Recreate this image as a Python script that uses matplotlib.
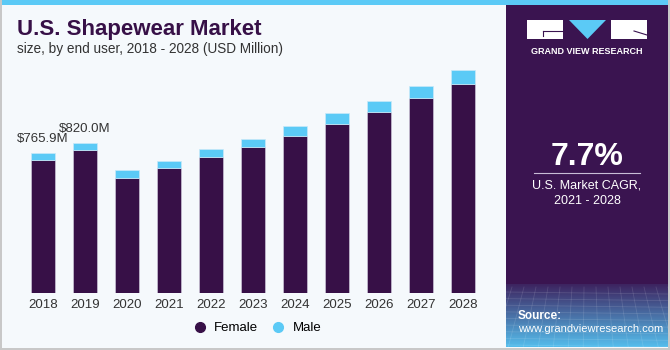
import numpy as np
import matplotlib
matplotlib.use('Agg')
import matplotlib.pyplot as plt
from matplotlib.lines import Line2D
from matplotlib.patches import Rectangle, Polygon

plt.rcParams['font.family'] = ['Liberation Sans', 'DejaVu Sans']

# data (USD Million)
years = ['2018', '2019', '2020', '2021', '2022', '2023', '2024', '2025', '2026', '2027', '2028']
female = [729, 784, 632, 687, 744, 802, 859, 925, 991, 1067, 1148]
male = [36.9, 36.0, 42, 35, 47, 42, 57, 60, 62, 68, 75]
labels = {0: '$765.9M', 1: '$820.0M'}

purple = '#371047'
blue = '#5bcaf6'
panel = '#3a1450'
bg = '#f5f9fc'

fig = plt.figure(figsize=(6.7, 3.5), dpi=100)
fig.patch.set_facecolor(bg)

def px(x, y, w, h):
    # pixel box (from top-left) -> figure coords
    return [x / 670, 1 - (y + h) / 350, w / 670, h / 350]

# main chart
ax = fig.add_axes(px(22, 60, 462, 233))
ax.set_facecolor(bg)
x = np.arange(len(years))
ax.bar(x, female, width=0.57, color=purple, edgecolor='#c9c3d6', linewidth=0.5)
ax.bar(x, male, bottom=female, width=0.57, color=blue, edgecolor='#c9e9f8', linewidth=0.5)
for i, txt in labels.items():
    ax.text(x[i], female[i] + male[i] + 45, txt, ha='center', va='bottom',
            fontsize=9.5, color='#333333')
ax.set_xlim(-0.5, len(years) - 0.5)
ax.set_ylim(0, 1277)
ax.set_xticks(x)
ax.set_xticklabels(years, fontsize=9.5, color='#333333')
ax.tick_params(axis='x', length=0, pad=4)
ax.set_yticks([])
for s in ax.spines.values():
    s.set_visible(False)

# title
fig.text(17 / 670, 1 - 30 / 350, 'U.S. Shapewear Market', fontsize=16, fontweight='bold',
         color=purple, va='center', ha='left')
fig.text(17 / 670, 1 - 49 / 350, 'size, by end user, 2018 - 2028 (USD Million)', fontsize=9.8,
         color='#333333', va='center', ha='left')

# legend
handles = [Line2D([], [], marker='o', linestyle='', markersize=7, color=purple, label='Female'),
           Line2D([], [], marker='o', linestyle='', markersize=7, color=blue, label='Male')]
fig.legend(handles=handles, loc='center', bbox_to_anchor=(254 / 670, 1 - 328 / 350), ncol=2,
           frameon=False, fontsize=9.5, handletextpad=0.1, columnspacing=0.5)

# overlay axes for decorations (pixel coords)
deco = fig.add_axes([0, 0, 1, 1])
deco.set_xlim(0, 670)
deco.set_ylim(350, 0)
deco.axis('off')
deco.patch.set_alpha(0)

deco.add_patch(Rectangle((0, 0), 670, 5, color=blue, lw=0))
deco.add_patch(Rectangle((0, 0), 1.5, 350, color='#c8c8c8', lw=0))
deco.add_patch(Rectangle((0, 347.5), 670, 2.5, color='#c8c8c8', lw=0))
deco.add_patch(Rectangle((667.5, 0), 2.5, 350, color='#c8c8c8', lw=0))
deco.add_patch(Rectangle((506, 5), 161.5, 280, color=panel, lw=0))

# bottom gradient of sidebar
grad = np.linspace(0, 1, 100).reshape(-1, 1)
c1 = np.array(matplotlib.colors.to_rgb('#3d2460'))
c2 = np.array(matplotlib.colors.to_rgb('#55bdec'))
img = c1 + grad[..., None] * (c2 - c1)
img = np.repeat(img, 2, axis=1)
deco.imshow(img, extent=(506, 667.5, 347.5, 285), aspect='auto', zorder=1)
for yy in np.linspace(292, 345, 9):
    deco.plot([506, 667.5], [yy, yy + 2], color='white', alpha=0.12, lw=0.6, zorder=2)
for xx in np.linspace(500, 680, 16):
    deco.plot([xx, xx + (xx - 587) * 0.25], [287, 347], color='white', alpha=0.12, lw=0.6, zorder=2)
deco.set_xlim(0, 670)
deco.set_ylim(350, 0)

# logo
deco.add_patch(Rectangle((527, 20), 36, 19, color='white', lw=0, zorder=3))
deco.add_patch(Polygon([(569, 20), (606, 20), (587.5, 39)], closed=True, color=blue, lw=0, zorder=3))
deco.add_patch(Rectangle((611, 20), 36, 19, color='white', lw=0, zorder=3))
deco.plot([543, 563], [31, 31], color=panel, lw=0.8, zorder=4)
deco.plot([543, 543], [31, 36], color=panel, lw=0.8, zorder=4)
deco.plot([634, 647], [31, 35], color=panel, lw=0.8, zorder=4)
deco.text(587, 51, 'GRAND VIEW RESEARCH', color='white', fontsize=6.5, fontweight='bold',
          ha='center', va='center', zorder=4)

# CAGR box
deco.text(587, 157, '7.7%', color='white', fontsize=23, fontweight='bold',
          ha='center', va='center', zorder=4)
deco.plot([534, 640], [173, 173], color='#c8bcd6', lw=0.8, zorder=4)
deco.text(587, 186, 'U.S. Market CAGR,', color='white', fontsize=9, ha='center', va='center', zorder=4)
deco.text(587, 201, '2021 - 2028', color='white', fontsize=9, ha='center', va='center', zorder=4)

# source
deco.text(518, 316, 'Source:', color='white', fontsize=8.5, fontweight='bold',
          ha='left', va='center', zorder=4)
deco.text(518, 329, 'www.grandviewresearch.com', color='white', fontsize=8,
          ha='left', va='center', zorder=4)

fig.savefig('out.png', dpi=100, facecolor=fig.get_facecolor())
